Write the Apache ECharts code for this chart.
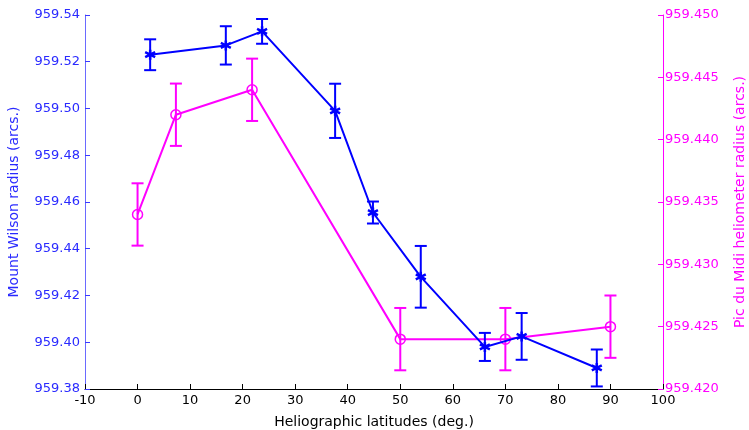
<!DOCTYPE html>
<html>
<head>
<meta charset="utf-8">
<script src="https://cdn.jsdelivr.net/npm/echarts@6/dist/echarts.min.js"></script>
<style>
  html, body { margin: 0; padding: 0; background: #fff; }
  #main { width: 749px; height: 430px; }
</style>
</head>
<body>
<div id="main"></div>
<script>
// Mount Wilson (left axis)
var latMW = [2.4, 16.8, 23.7, 37.6, 44.8, 53.9, 66.1, 73.1, 87.4];
var radiusMW = [959.523, 959.527, 959.533, 959.499, 959.4555, 959.428, 959.398, 959.4025, 959.389];
var errMW = [0.0066, 0.0082, 0.0053, 0.0116, 0.0047, 0.0132, 0.006, 0.01, 0.0079];

// Pic du Midi (right axis)
var latPM = [0, 7.3, 21.8, 50, 70, 90];
var radiusPM = [959.434, 959.442, 959.444, 959.424, 959.424, 959.425];
var errPM = [0.0025, 0.0025, 0.0025, 0.0025, 0.0025, 0.0025];

var BLUE = '#0000ff';
var MAGENTA = '#ff00ff';
var FONT = 'DejaVu Sans';

function pairs(xs, ys) {
  return xs.map(function (x, i) { return [x, ys[i]]; });
}
function bars(xs, ys, es) {
  return xs.map(function (x, i) { return [x, ys[i] - es[i], ys[i] + es[i]]; });
}

function errorBar(color) {
  return function (params, api) {
    var lo = api.coord([api.value(0), api.value(1)]);
    var hi = api.coord([api.value(0), api.value(2)]);
    var cap = 6;
    var style = { stroke: color, lineWidth: 2 };
    return {
      type: 'group',
      children: [
        { type: 'line', shape: { x1: lo[0], y1: lo[1], x2: hi[0], y2: hi[1] }, style: style },
        { type: 'line', shape: { x1: lo[0] - cap, y1: lo[1], x2: lo[0] + cap, y2: lo[1] }, style: style },
        { type: 'line', shape: { x1: hi[0] - cap, y1: hi[1], x2: hi[0] + cap, y2: hi[1] }, style: style }
      ]
    };
  };
}

var asterisk = 'path://M5,0L5,10M0.7,2.5L9.3,7.5M0.7,7.5L9.3,2.5';

var chart = echarts.init(document.getElementById('main'));
chart.setOption({
  animation: false,
  backgroundColor: '#fff',
  textStyle: { fontFamily: FONT },
  grid: { left: 85, right: 86, top: 15, bottom: 41, outerBoundsMode: 'none', containLabel: false },
  xAxis: {
    type: 'value',
    min: -10, max: 100, interval: 10,
    name: 'Heliographic latitudes (deg.)',
    nameLocation: 'middle',
    nameGap: 26,
    nameTextStyle: { color: '#000', fontSize: 14, fontFamily: FONT },
    axisLine: { onZero: false, lineStyle: { color: '#000', width: 1 } },
    axisTick: { inside: true, length: 5, lineStyle: { color: '#000' } },
    axisLabel: { color: '#000', fontSize: 13, margin: 5, fontFamily: FONT },
    splitLine: { show: false }
  },
  yAxis: [
    {
      type: 'value',
      min: 959.38, max: 959.54, interval: 0.02,
      position: 'left',
      name: 'Mount Wilson radius (arcs.)',
      nameLocation: 'middle',
      nameGap: 64,
      nameTextStyle: { color: '#2a2aff', fontSize: 14, fontFamily: FONT },
      axisLine: { show: true, onZero: false, lineStyle: { color: '#6a6aff', width: 1 } },
      axisTick: { show: true, inside: true, length: 5, lineStyle: { color: '#3a3aff' } },
      axisLabel: {
        color: '#2a2aff', fontSize: 13, margin: 5, fontFamily: FONT,
        formatter: function (v) { return v.toFixed(2); }
      },
      splitLine: { show: false }
    },
    {
      type: 'value',
      min: 959.42, max: 959.45, interval: 0.005,
      position: 'right',
      name: 'Pic du Midi heliometer radius (arcs.)',
      nameLocation: 'middle',
      nameGap: 70,
      nameRotate: 90,
      nameTextStyle: { color: MAGENTA, fontSize: 14, fontFamily: FONT },
      axisLine: { show: true, onZero: false, lineStyle: { color: MAGENTA, width: 1 } },
      axisTick: { show: true, inside: true, length: 5, lineStyle: { color: MAGENTA } },
      axisLabel: {
        color: MAGENTA, fontSize: 13, margin: 2, fontFamily: FONT,
        formatter: function (v) { return v.toFixed(3); }
      },
      splitLine: { show: false }
    }
  ],
  series: [
    {
      type: 'line',
      yAxisIndex: 1,
      data: pairs(latPM, radiusPM),
      lineStyle: { color: MAGENTA, width: 2 },
      symbol: 'circle',
      symbolSize: 10,
      itemStyle: { color: 'rgba(255,255,255,0)', borderColor: MAGENTA, borderWidth: 1.5 },
      z: 3
    },
    {
      type: 'custom',
      yAxisIndex: 1,
      data: bars(latPM, radiusPM, errPM),
      renderItem: errorBar(MAGENTA),
      encode: { x: 0, y: [1, 2] },
      z: 2
    },
    {
      type: 'line',
      yAxisIndex: 0,
      data: pairs(latMW, radiusMW),
      lineStyle: { color: BLUE, width: 2 },
      symbol: asterisk,
      symbolSize: 10,
      itemStyle: { color: BLUE, borderColor: BLUE, borderWidth: 2.5 },
      z: 5
    },
    {
      type: 'custom',
      yAxisIndex: 0,
      data: bars(latMW, radiusMW, errMW),
      renderItem: errorBar(BLUE),
      encode: { x: 0, y: [1, 2] },
      z: 4
    }
  ]
});
</script>
</body>
</html>
